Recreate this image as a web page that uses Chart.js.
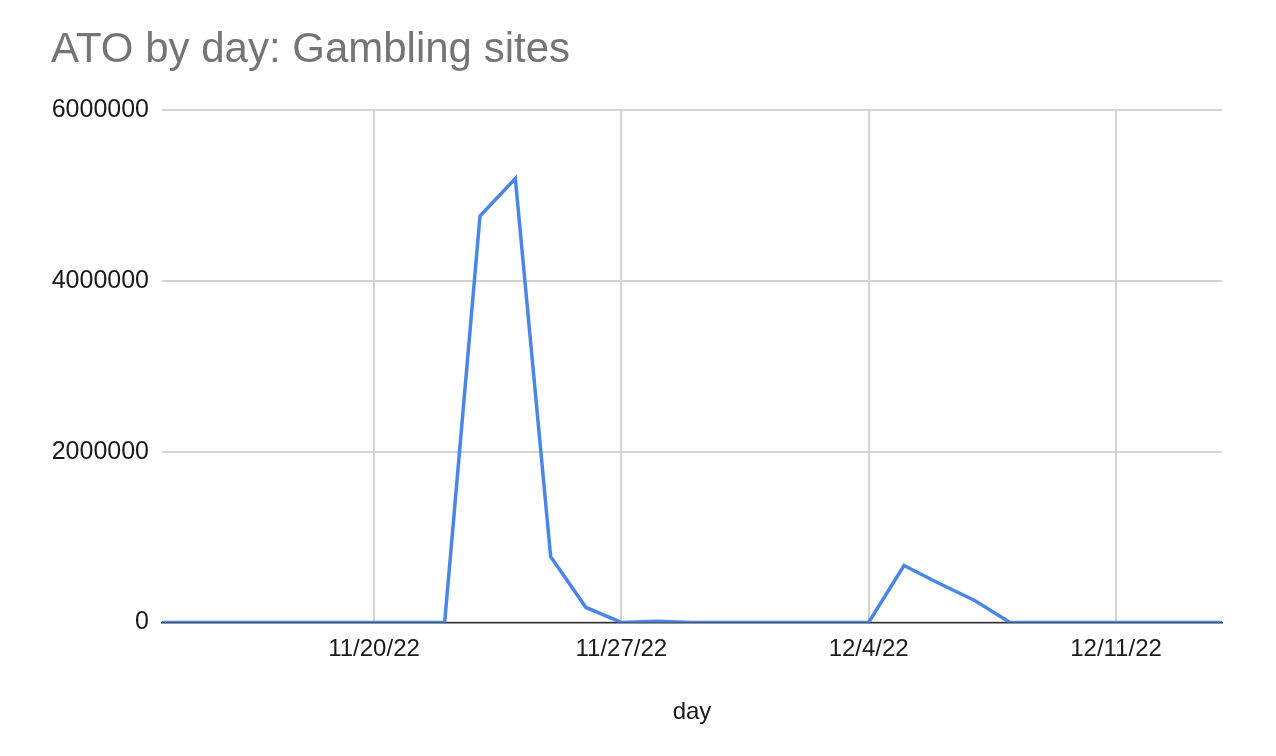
<!DOCTYPE html>
<html>
<head>
<meta charset="utf-8">
<script src="https://cdn.jsdelivr.net/npm/chart.js@4/dist/chart.umd.min.js"></script>
<style>
  html, body { margin: 0; padding: 0; background: #ffffff; }
  #wrap { width: 1276px; height: 756px; position: relative; }
</style>
</head>
<body>
<div id="wrap"><canvas id="c" width="1276" height="756"></canvas></div>
<script>
// ---- data ----
const days = [
  '11/14/22','11/15/22','11/16/22','11/17/22','11/18/22','11/19/22','11/20/22',
  '11/21/22','11/22/22','11/23/22','11/24/22','11/25/22','11/26/22','11/27/22',
  '11/28/22','11/29/22','11/30/22','12/1/22','12/2/22','12/3/22','12/4/22',
  '12/5/22','12/6/22','12/7/22','12/8/22','12/9/22','12/10/22','12/11/22',
  '12/12/22','12/13/22','12/14/22'
];
const atoValues = [
  0, 0, 0, 0, 0, 0, 0,
  0, 0, 4760000, 5200000, 770000, 175000, 0,
  12000, 0, 0, 0, 0, 0, 0,
  667000, 456000, 257000, 0, 0, 0, 0,
  0, 0, 0
];
const shownTicks = ['11/20/22', '11/27/22', '12/4/22', '12/11/22'];
const yTicks = [0, 2000000, 4000000, 6000000];
const chartTitle = 'ATO by day: Gambling sites';
const xTitle = 'day';

const FONT = "'Liberation Sans', Arial, sans-serif";

new Chart(document.getElementById('c'), {
  type: 'line',
  data: {
    labels: days,
    datasets: [{
      label: 'ATO',
      data: atoValues,
      borderColor: '#4a86e8',
      backgroundColor: '#4a86e8',
      borderWidth: 3.5,
      pointRadius: 0,
      tension: 0,
      fill: false
    }]
  },
  options: {
    responsive: false,
    animation: false,
    devicePixelRatio: 1,
    layout: { padding: { left: 51, right: 54, top: 0, bottom: 9 } },
    plugins: {
      legend: { display: false },
      tooltip: { enabled: false },
      title: {
        display: true,
        text: chartTitle,
        align: 'start',
        color: '#757575',
        font: { family: FONT, size: 42, weight: 'normal', lineHeight: 1.2 },
        padding: { top: 25, bottom: 34.8 }
      }
    },
    scales: {
      x: {
        type: 'category',
        offset: false,
        border: { display: true, color: '#333333', width: 1.5 },
        grid: {
          drawTicks: false,
          lineWidth: 2,
          color: (ctx) => (ctx.tick && shownTicks.includes(days[ctx.index])) ? '#d3d3d3' : 'rgba(0,0,0,0)'
        },
        ticks: {
          autoSkip: false,
          maxRotation: 0,
          minRotation: 0,
          padding: 13,
          color: '#1a1a1a',
          font: { family: FONT, size: 24 },
          callback: function (value, index) {
            const lab = days[index];
            return shownTicks.includes(lab) ? lab : '';
          }
        },
        title: {
          display: true,
          text: xTitle,
          color: '#1a1a1a',
          font: { family: FONT, size: 24 },
          padding: { top: 21, bottom: 20 }
        }
      },
      y: {
        min: 0,
        max: 6000000,
        border: { display: false },
        grid: { drawTicks: false, lineWidth: 2, color: '#d3d3d3' },
        afterBuildTicks: (scale) => { scale.ticks = yTicks.map(v => ({ value: v })); },
        afterFit: (scale) => { scale.width = 111; },
        ticks: {
          padding: 13,
          color: '#1a1a1a',
          font: { family: FONT, size: 25 },
          callback: (v) => String(v)
        }
      }
    }
  }
});
</script>
</body>
</html>
